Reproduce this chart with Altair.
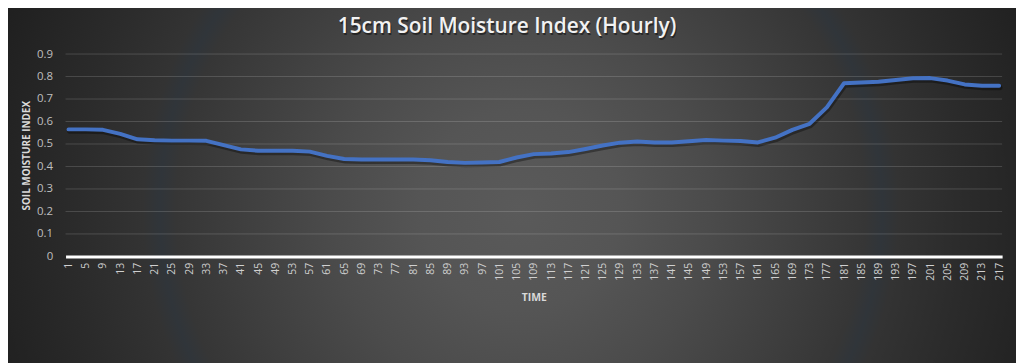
import altair as alt
import pandas as pd

# x categories (hour index) and the soil moisture index
hours = list(range(1, 218, 4))
smi = [0.565, 0.565, 0.563, 0.545, 0.521, 0.517, 0.515, 0.515, 0.514, 0.495,
       0.476, 0.470, 0.470, 0.470, 0.466, 0.447, 0.433, 0.431, 0.431, 0.431,
       0.431, 0.428, 0.420, 0.416, 0.418, 0.420, 0.440, 0.455, 0.458, 0.464,
       0.478, 0.493, 0.506, 0.511, 0.507, 0.507, 0.512, 0.518, 0.515, 0.513,
       0.507, 0.528, 0.563, 0.590, 0.663, 0.770, 0.773, 0.777, 0.785, 0.792,
       0.793, 0.782, 0.765, 0.759, 0.759]
y_ticks = [0, 0.1, 0.2, 0.3, 0.4, 0.5, 0.6, 0.7, 0.8, 0.9]
grid_vals = [0.1, 0.2, 0.3, 0.4, 0.5, 0.6, 0.7, 0.8, 0.9]
title_text = ["15cm Soil Moisture Index (Hourly)"]

df = pd.DataFrame({"hour": hours, "smi": smi})
grid_df = pd.DataFrame({"smi": grid_vals})
title_df = pd.DataFrame({"t": title_text})

FONT = "Open Sans"

x_enc = alt.X(
    "hour:Q",
    scale=alt.Scale(domain=[1, 217], nice=False, zero=False, padding=3),
    axis=alt.Axis(
        values=hours, labelAngle=270, title="TIME", titleY=41,
        titleBaseline="middle", titleFont=FONT, titleFontSize=10.5,
        titleFontWeight="bold", titleColor="#d9d9d9",
        domainColor="#ffffff", domainWidth=3, ticks=False, grid=False,
        labelColor="#d0d0d0", labelFont=FONT, labelFontSize=10.5,
        labelPadding=6, labelOverlap=False, labelFlush=False, zindex=1,
    ),
)
y_enc = alt.Y(
    "smi:Q",
    scale=alt.Scale(domain=[0, 0.9], nice=False, zero=True),
    axis=alt.Axis(
        values=y_ticks, format=".1~f", grid=False, domain=False, ticks=False,
        labelColor="#bfbfbf", labelFont=FONT, labelFontSize=11.5,
        labelPadding=13, title="SOIL MOISTURE INDEX", titleFont=FONT,
        titleFontSize=10, titleFontWeight="bold", titleColor="#d9d9d9",
        titleX=-39, titleY=102, titleBaseline="middle", titleAlign="center",
        zindex=1,
    ),
)

bg = alt.Chart(alt.Data(values=[{"a": 1}])).mark_rect(
    fill={
        "gradient": "radial",
        "x1": 0.5, "y1": 0.5, "r1": 0,
        "x2": 0.5, "y2": 0.5, "r2": 0.5,
        "stops": [
            {"offset": 0.0, "color": "#5a5a5a"},
            {"offset": 0.18, "color": "#555555"},
            {"offset": 0.34, "color": "#4b4b4b"},
            {"offset": 0.5, "color": "#3f3f3f"},
            {"offset": 0.62, "color": "#363636"},
            {"offset": 0.65, "color": "#30353a"},
            {"offset": 0.68, "color": "#333333"},
            {"offset": 0.8, "color": "#2b2b2b"},
            {"offset": 1.0, "color": "#1f1f1f"},
        ],
    },
    strokeWidth=0,
).encode(
    x=alt.value(-101), x2=alt.value(1019),
    y=alt.value(-403), y2=alt.value(717),
)

grid = alt.Chart(grid_df).mark_rule(
    color="#ffffff", opacity=0.16, strokeWidth=1
).encode(y=y_enc)

shadow = alt.Chart(df).mark_line(
    color="#000000", opacity=0.35, strokeWidth=5, xOffset=1, yOffset=2,
    strokeCap="round", strokeJoin="round",
).encode(x=x_enc, y=y_enc)

line = alt.Chart(df).mark_line(
    color="#4472C4", strokeWidth=4, strokeCap="round", strokeJoin="round",
).encode(x=x_enc, y=y_enc)

title_shadow = alt.Chart(title_df).mark_text(
    font=FONT, fontSize=21, fontWeight=600, color="#000000", opacity=0.45,
    align="center", baseline="alphabetic", dx=1, dy=1.5,
).encode(text="t:N", x=alt.value(445), y=alt.value(-21))

title = alt.Chart(title_df).mark_text(
    font=FONT, fontSize=21, fontWeight=600, color="#f2f2f2", align="center",
    baseline="alphabetic",
).encode(text="t:N", x=alt.value(445), y=alt.value(-21))

chart = alt.layer(bg, grid, shadow, line, title_shadow, title).properties(
    width=944,
    height=204,
    autosize=alt.AutoSizeParams(type="none"),
    padding={"left": 58, "top": 45, "right": 14, "bottom": 106},
    background="#232323",
).configure_view(stroke=None)

chart.save("out.html", embed_options={"renderer": "svg", "actions": False})
